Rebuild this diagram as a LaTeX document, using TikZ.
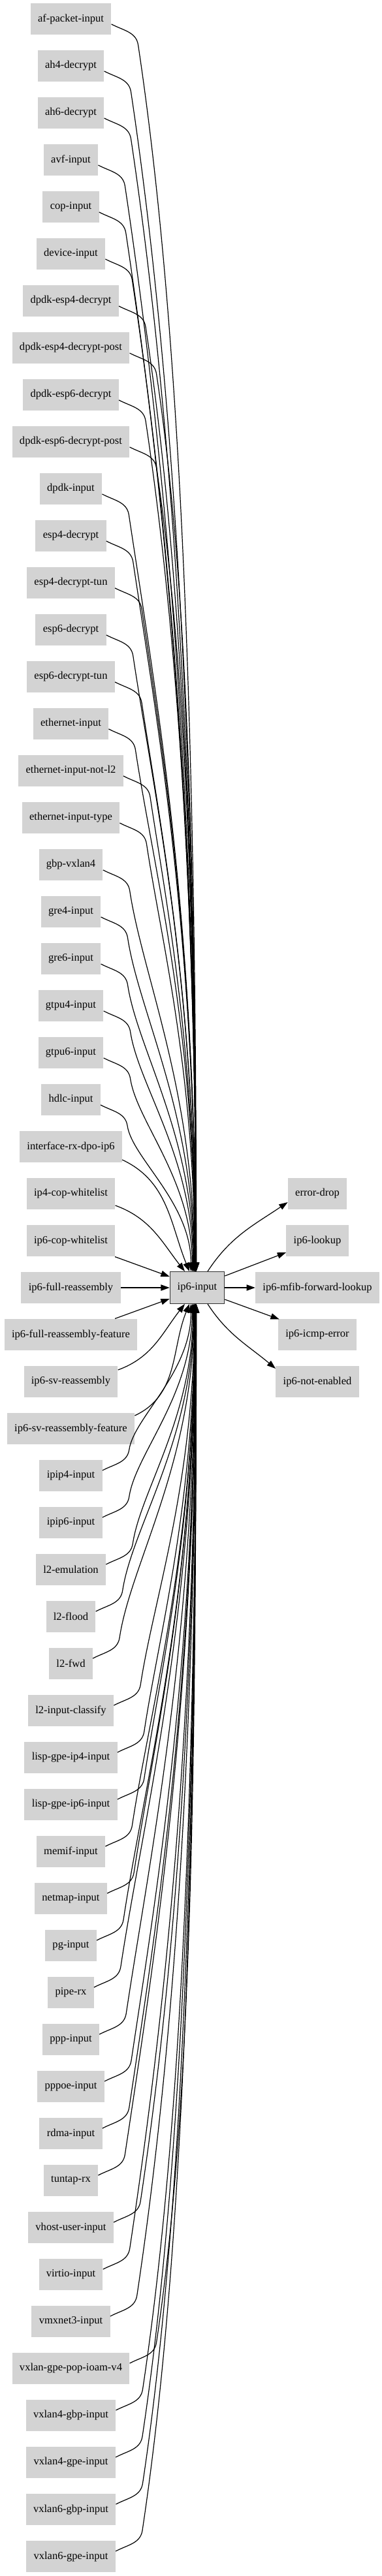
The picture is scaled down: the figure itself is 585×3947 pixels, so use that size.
\documentclass[tikz,border=0pt]{standalone}
\usepackage{fontspec}
\setmainfont{Liberation Serif}
\usetikzlibrary{calc,arrows.meta}
\definecolor{boxgray}{HTML}{D3D3D3}

\begin{document}
\begin{tikzpicture}[x=0.75pt,y=0.75pt,
  src/.style={fill=boxgray, minimum height=36.5pt, inner xsep=8.5pt, font=\fontsize{12.4}{14}\selectfont},
  hub/.style={src, draw=black!80, line width=1pt},
  edge/.style={line width=0.9pt, -{Triangle[length=10pt,width=7pt]}}]
\useasboundingbox (0,0) rectangle (585,-3947);

% sources
\foreach \name [count=\i] in {af-packet-input, ah4-decrypt, ah6-decrypt, avf-input, cop-input, device-input,
  dpdk-esp4-decrypt, dpdk-esp4-decrypt-post, dpdk-esp6-decrypt, dpdk-esp6-decrypt-post, dpdk-input,
  esp4-decrypt, esp4-decrypt-tun, esp6-decrypt, esp6-decrypt-tun, ethernet-input, ethernet-input-not-l2,
  ethernet-input-type, gbp-vxlan4, gre4-input, gre6-input, gtpu4-input, gtpu6-input, hdlc-input,
  interface-rx-dpo-ip6, ip4-cop-whitelist, ip6-cop-whitelist, ip6-full-reassembly,
  ip6-full-reassembly-feature, ip6-sv-reassembly, ip6-sv-reassembly-feature, ipip4-input, ipip6-input,
  l2-emulation, l2-flood, l2-fwd, l2-input-classify, lisp-gpe-ip4-input, lisp-gpe-ip6-input, memif-input,
  netmap-input, pg-input, pipe-rx, ppp-input, pppoe-input, rdma-input, tuntap-rx, vhost-user-input,
  virtio-input, vmxnet3-input, vxlan-gpe-pop-ioam-v4, vxlan4-gbp-input, vxlan4-gpe-input,
  vxlan6-gbp-input, vxlan6-gpe-input}
  \node[src] (src\i) at (108.5,{-29-72*(\i-1)}) {\name};

\node[hub] (ip6) at (302,-1973) {ip6-input};

% next nodes
\node[src] (drop) at (486,-1829) {error-drop};
\node[src] (lookup) at (486,-1901) {ip6-lookup};
\node[src] (mfib) at (486,-1973) {ip6-mfib-forward-lookup};
\node[src] (icmp) at (486,-2045) {ip6-icmp-error};
\node[src] (noten) at (486,-2117) {ip6-not-enabled};

% long edges from above
\foreach \i in {1,...,24} {
  \pgfmathsetmacro{\xoff}{38/(28-\i)}
  \pgfmathsetmacro{\lena}{0.22*(1952-72*\i)}
  \pgfmathsetmacro{\lenb}{0.47*(1952-72*\i)}
  \coordinate (s) at ($(src\i.east)+(0,-8)$);
  \coordinate (b) at ($(s)+(41,-32)$);
  \coordinate (t) at ($(ip6.north)+(-\xoff,0)$);
  \draw[edge] (s) .. controls ($(s)+(19,-10)$) and ($(s)+(38,-12)$) .. (b)
    .. controls ($(b)+(0.15*\lena,-\lena)$) and ($(t)+(0,\lenb)$) .. (t);
}
% long edges from below
\foreach \i in {32,...,55} {
  \pgfmathsetmacro{\xoff}{38/(\i-28)}
  \pgfmathsetmacro{\lena}{0.22*(72*\i-2080)}
  \pgfmathsetmacro{\lenb}{0.47*(72*\i-2080)}
  \coordinate (s) at ($(src\i.east)+(0,8)$);
  \coordinate (b) at ($(s)+(41,32)$);
  \coordinate (t) at ($(ip6.south)+(-\xoff,0)$);
  \draw[edge] (s) .. controls ($(s)+(19,10)$) and ($(s)+(38,12)$) .. (b)
    .. controls ($(b)+(0.15*\lena,\lena)$) and ($(t)+(0,-\lenb)$) .. (t);
}

% short edges
\draw[edge] ($(src25.east)+(0,-20)$) to[out=-25,in=112] ($(ip6.north)+(-12,0)$);
\draw[edge] ($(src26.east)+(0,-18)$) to[out=-20,in=128] ($(ip6.north)+(-19,0)$);
\draw[edge] (src27) -- ($(ip6.west)+(0,17)$);
\draw[edge] (src28) -- (ip6);
\draw[edge] (src29) -- ($(ip6.west)+(0,-17)$);
\draw[edge] ($(src30.east)+(0,18)$) to[out=20,in=-128] ($(ip6.south)+(-19,0)$);
\draw[edge] ($(src31.east)+(0,20)$) to[out=25,in=-112] ($(ip6.south)+(-12,0)$);

% out edges
\draw[edge] ($(ip6.north)+(16,0)$) to[out=57,in=214] ($(drop.west)+(0,-13)$);
\draw[edge] ($(ip6.north east)+(0,-7)$) -- ($(lookup.west)+(0,-18)$);
\draw[edge] (ip6) -- (mfib);
\draw[edge] ($(ip6.south east)+(0,7)$) -- ($(icmp.north west)+(2,-1)$);
\draw[edge] ($(ip6.south)+(16,0)$) to[out=-57,in=140] ($(noten.west)+(0,20)$);

\end{tikzpicture}
\end{document}
